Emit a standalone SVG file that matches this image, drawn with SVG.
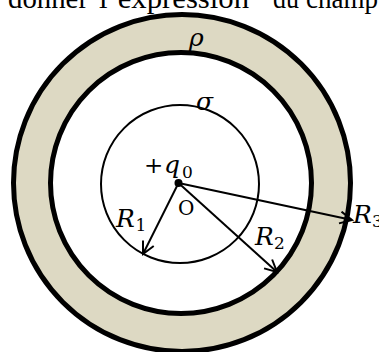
<svg xmlns="http://www.w3.org/2000/svg" width="379" height="352" viewBox="0 0 379 352">
<style>
.hdr{font-family:"Liberation Serif","Times New Roman",serif;font-size:29px;fill:#000}
.m{font-family:"DejaVu Serif",serif;font-style:italic;font-size:25px;fill:#000}
.up{font-family:"DejaVu Serif",serif;font-size:20px;fill:#000}
.sub{font-family:"DejaVu Serif",serif;font-size:17px;fill:#000}
.arr{stroke:#000;stroke-width:2;fill:none;marker-end:url(#ah)}
</style>
<defs>
<marker id="ah" markerUnits="userSpaceOnUse" markerWidth="16" markerHeight="16" refX="13" refY="7" orient="auto">
<path d="M1,1 L13,7 L1,13" fill="none" stroke="#000" stroke-width="2"/>
</marker>
</defs>
<rect width="379" height="352" fill="#fff"/>
<g id="header">
<text class="hdr" x="8" y="7.5" textLength="80" lengthAdjust="spacingAndGlyphs">donner</text>
<text class="hdr" x="99" y="7.5" textLength="150" lengthAdjust="spacingAndGlyphs">l’expression</text>
<text class="hdr" x="273" y="7.5" textLength="26" lengthAdjust="spacingAndGlyphs">du</text>
<text class="hdr" x="306" y="7.5" textLength="72" lengthAdjust="spacingAndGlyphs">champ</text>
</g>
<g id="shell">
<circle cx="182" cy="183" r="168.5" fill="#DDD9C3" stroke="#000" stroke-width="5"/>
<circle cx="181" cy="183" r="130.5" fill="#fff" stroke="#000" stroke-width="5"/>
<text class="m" x="189" y="46">ρ</text>
</g>
<g id="sphere">
<circle cx="180" cy="184" r="79" fill="none" stroke="#000" stroke-width="2"/>
<text class="m" x="196" y="110">σ</text>
</g>
<g id="charge">
<circle cx="178.5" cy="183" r="4" fill="#000"/>
<text class="up" x="144" y="173" style="font-size:23px">+</text>
<text class="m" x="164" y="173">q</text>
<text class="sub" x="182" y="178">0</text>
<text class="up" x="178" y="215">O</text>
</g>
<g id="connectors">
<line class="arr" x1="178.5" y1="183" x2="143" y2="254"/>
<line class="arr" x1="178.5" y1="183" x2="277" y2="272"/>
<line class="arr" x1="178.5" y1="183" x2="352" y2="220"/>
</g>
<g id="labels">
<text class="m" x="116" y="227">R</text>
<text class="sub" x="135.5" y="231">1</text>
<text class="m" x="255" y="245">R</text>
<text class="sub" x="274" y="249">2</text>
<text class="m" x="353" y="223">R</text>
<text class="sub" x="372" y="227">3</text>
</g>
</svg>
